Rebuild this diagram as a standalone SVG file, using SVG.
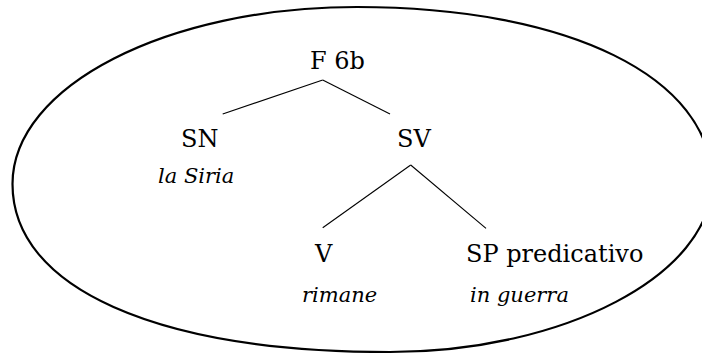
<svg xmlns="http://www.w3.org/2000/svg" width="702" height="354" viewBox="0 0 702 354">
<style>
text{font-family:'DejaVu Serif','Liberation Serif',serif;fill:#000}
.lbl{font-size:24px}
.it{font-size:21px;font-style:italic}
.edge{stroke:#000;stroke-width:1.1;fill:none}
.frame{stroke:#000;stroke-width:2.2;fill:none}
</style>
<rect width="702" height="354" fill="#fff"/>
<path class="frame" d="M12.5,184 C12.5,86 167,7 357,7 C568,7 712,77 712,182 C712,275 563,352 390,352 C156,352 12.5,288 12.5,184 Z"/>
<g id="connectors">
<line class="edge" x1="322.7" y1="80" x2="222.7" y2="114"/>
<line class="edge" x1="322.7" y1="80" x2="390" y2="114"/>
<line class="edge" x1="410.7" y1="165" x2="322.7" y2="227.7"/>
<line class="edge" x1="410.7" y1="165" x2="486" y2="228.3"/>
</g>
<g id="F6b"><text class="lbl" x="310" y="69">F 6b</text></g>
<g id="SN"><text class="lbl" x="181" y="146.5">SN</text><text class="it" x="158" y="183">la Siria</text></g>
<g id="SV"><text class="lbl" x="397" y="146.5">SV</text></g>
<g id="V"><text class="lbl" x="315" y="262">V</text><text class="it" x="302" y="302">rimane</text></g>
<g id="SP"><text class="lbl" x="466" y="262">SP predicativo</text><text class="it" x="470" y="302">in guerra</text></g>
</svg>
